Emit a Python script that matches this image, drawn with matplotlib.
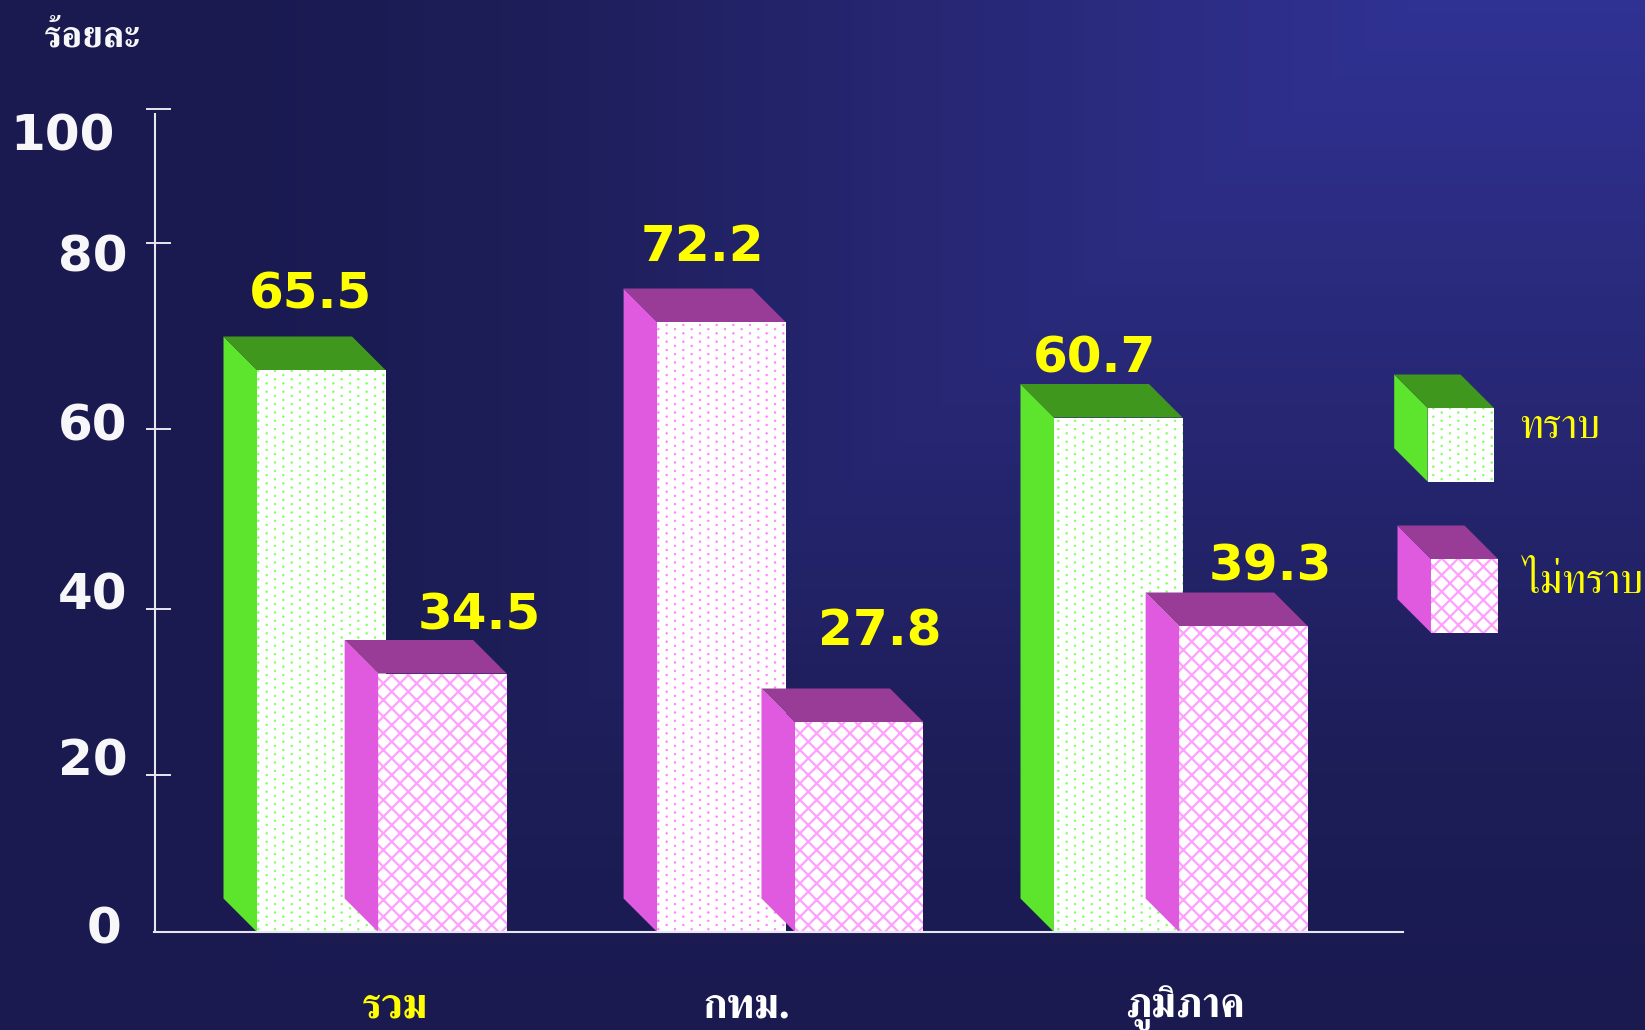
import numpy as np
import matplotlib
matplotlib.use('Agg')
import matplotlib.pyplot as plt
from matplotlib import hatch as mhatch
from matplotlib.patches import Polygon
from matplotlib.transforms import IdentityTransform, Affine2D
from matplotlib.scale import FuncScale

# ---- data ----
categories = ['รวม', 'กทม.', 'ภูมิภาค']
known = [65.5, 72.2, 60.7]
unknown = [34.5, 27.8, 39.3]
series_names = ['ทราบ', 'ไม่ทราบ']
y_ticks = [0, 20, 40, 60, 80, 100]
y_title = 'ร้อยละ'

# ---- layout ----
W, H = 1645, 1030
THAI = ['FreeSerif', 'Noto Serif Thai', 'DejaVu Sans']
AX_L, AX_R, AX_B, AX_T = 146, 1403, 932, 109
UNIT = 398.5
X0 = 257
DEPTH = 33.5
first_left = [0.0, 1.004, 2.0]
second_left = [0.304, 1.35, 2.314]
bar_w = 128.5 / UNIT
# the reference's hand-drawn value axis is uneven: value -> pixel height above baseline
scale_v = [0, 20, 27.8, 34.5, 39.3, 40, 60, 60.7, 65.5, 72.2, 80, 100]
scale_p = [0, 157, 210, 258.5, 306, 323.5, 503, 514.5, 562, 610, 689, 823]

GREEN_SIDE, GREEN_TOP, GREEN_DOT = '#5ce52c', '#3f971e', '#80ff60'
MAG_SIDE, MAG_TOP, MAG_DOT = '#e05ae0', '#983c98', '#ff80ff'
CROSS = '#ffa0ff'
LINE = '#e8e6f0'
YEL = '#ffff00'
DOT_LW, CROSS_LW = 0.5, 1.6


# dotted fill: same lattice as the reference (columns offset, not rows)
class ColumnDots(mhatch.SmallFilledCircles):
    def set_vertices_and_codes(self, vertices, codes):
        super().set_vertices_and_codes(vertices, codes)
        vertices[:] = vertices[:, ::-1].copy()


mhatch._hatch_types[mhatch._hatch_types.index(mhatch.SmallFilledCircles)] = ColumnDots

fig = plt.figure(figsize=(W / 100, H / 100), dpi=100)

# background: corner gradient with rectangular iso-lines
bg = fig.add_axes([0, 0, 1, 1], zorder=-5)
yy, xx = np.mgrid[0:H, 0:W]
t = np.maximum((1424 - xx) / 1230, yy / 1030)
stops_t = [0, 0.25, 0.5, 0.75, 1.0]
stops_c = np.array([[0x30, 0x32, 0x94], [0x2b, 0x2b, 0x80], [0x24, 0x24, 0x6c],
                    [0x1d, 0x1d, 0x58], [0x1a, 0x1a, 0x50]]) / 255
img = np.dstack([np.interp(t, stops_t, stops_c[:, k]) for k in range(3)])
bg.imshow(img, aspect='auto', interpolation='bilinear')
bg.axis('off')

ax = fig.add_axes([AX_L / W, 1 - AX_B / H, (AX_R - AX_L) / W, (AX_B - AX_T) / H])
ax.patch.set_visible(False)
ax.set_yscale(FuncScale(ax.yaxis, (lambda v: np.interp(v, scale_v, scale_p),
                                   lambda p: np.interp(p, scale_p, scale_v))))
ax.set_xlim((AX_L - X0) / UNIT, (AX_R - X0) / UNIT)
ax.set_ylim(0, 100)


def set_hlw(patch, lw):
    if hasattr(patch, 'set_hatch_linewidth'):
        patch.set_hatch_linewidth(lw)


def poly(pts, color, z):
    ax.add_patch(Polygon(pts, closed=True, facecolor=color, edgecolor='none',
                         lw=0, transform=IdentityTransform(), clip_on=False, zorder=z))


def extrude(x0, y0, x1, y1, side, top, z):
    """Side and top faces for a front face given in display pixels."""
    d = DEPTH
    poly([(x0, y0), (x0, y1), (x0 - d, y1 + d), (x0 - d, y0 + d)], side, z)
    poly([(x0, y1), (x1, y1), (x1 - d, y1 + d), (x0 - d, y1 + d)], top, z)


def bar3d(left, val, dot, hatch, hlw, side, top, z):
    b = ax.bar(left, val, bar_w, align='edge', facecolor='white', edgecolor=dot,
               hatch=hatch, lw=0, zorder=z, clip_on=False)
    set_hlw(b[0], hlw)
    (x0, y0), (x1, y1) = ax.transData.transform([(left, 0), (left + bar_w, val)])
    extrude(x0, y0, x1, y1, side, top, z)


first_colors = [(GREEN_DOT, GREEN_SIDE, GREEN_TOP), (MAG_DOT, MAG_SIDE, MAG_TOP),
                (GREEN_DOT, GREEN_SIDE, GREEN_TOP)]
for i in range(3):
    d, s, tp = first_colors[i]
    bar3d(first_left[i], known[i], d, '..', DOT_LW, s, tp, 3)
for i in range(3):
    bar3d(second_left[i], unknown[i], CROSS, 'xx', CROSS_LW, MAG_SIDE, MAG_TOP, 4)

# value labels (hand placed in the reference)
label_dx = [[-11, -18.5, -24], [37, 20.5, 26.5]]
label_dy = [[76, 75.5, 59], [58.5, 90.5, 59.5]]
for k, (vals, lefts) in enumerate([(known, first_left), (unknown, second_left)]):
    for i in range(3):
        ax.annotate(f'{vals[i]:.1f}', (lefts[i] + bar_w / 2, vals[i]),
                    xytext=(label_dx[k][i], label_dy[k][i]), textcoords='offset pixels',
                    ha='center', va='center', color=YEL, fontsize=36, fontweight='bold',
                    annotation_clip=False, zorder=6)

# axes
for sp in ['top', 'right', 'left']:
    ax.spines[sp].set_visible(False)
ax.spines['bottom'].set_color(LINE)
ax.spines['bottom'].set_linewidth(1.5)
ax.spines['bottom'].set_bounds((154 - X0) / UNIT, (AX_R - X0) / UNIT)
ax.spines['bottom'].set_zorder(5)
spine_x = (154.5 - X0) / UNIT
ax.plot([spine_x, spine_x], [0, 99.4], color=LINE, lw=1.5, solid_capstyle='butt', zorder=2)
ax.set_xlim((AX_L - X0) / UNIT, (AX_R - X0) / UNIT)
ax.set_ylim(0, 100)

ax.set_yticks(y_ticks)
ax.set_yticklabels([str(v) for v in y_ticks])
ax.tick_params(axis='y', direction='in', length=18, width=1.4, color=LINE, pad=0,
               labelsize=36, labelcolor='#f7f7fa')
tick_dx = [-25, -18.5, -18.5, -18.5, -18.5, -31]
tick_dy = [8, 19, 18.5, 8, -9.5, -22]
for lab, dx, dy in zip(ax.get_yticklabels(), tick_dx, tick_dy):
    lab.set_fontweight('bold')
    lab.set_transform(lab.get_transform() + Affine2D().translate(dx, dy))
ax.yaxis.get_major_ticks()[0].tick1line.set_visible(False)

ax.set_xticks([])

# category labels (hand placed)
cat_x = [394.5, 746, 1185]
cat_colors = [YEL, 'white', 'white']
for name, x, c in zip(categories, cat_x, cat_colors):
    fig.text(x / W, 1 - 1017 / H, name, ha='center', va='baseline', color=c,
             fontsize=30, family=THAI, fontweight='bold')

# y title
fig.text(44 / W, 1 - 46.7 / H, y_title, ha='left', va='baseline', color='#f7f7fa',
         fontsize=27, family=THAI, fontweight='bold')


# legend swatches
def swatch(x0, x1, ytop, ybot, dot, hatch, hlw, side, top):
    y0, y1 = H - ybot, H - ytop
    p = Polygon([(x0, y0), (x1, y0), (x1, y1), (x0, y1)], closed=True, facecolor='white',
                edgecolor=dot, hatch=hatch, lw=0, transform=IdentityTransform(),
                clip_on=False, zorder=3)
    set_hlw(p, hlw)
    ax.add_patch(p)
    extrude(x0, y0, x1, y1, side, top, 3)


swatch(1427.7, 1494, 408, 481.7, GREEN_DOT, '..', DOT_LW, GREEN_SIDE, GREEN_TOP)
swatch(1431, 1498, 559, 632.7, CROSS, 'xx', CROSS_LW, MAG_SIDE, MAG_TOP)
fig.text(1519 / W, 1 - 438 / H, series_names[0], color=YEL, fontsize=30, family=THAI, va='baseline')
fig.text(1522.7 / W, 1 - 593 / H, series_names[1], color=YEL, fontsize=30, family=THAI, va='baseline')

fig.savefig('out.png', dpi=100)
